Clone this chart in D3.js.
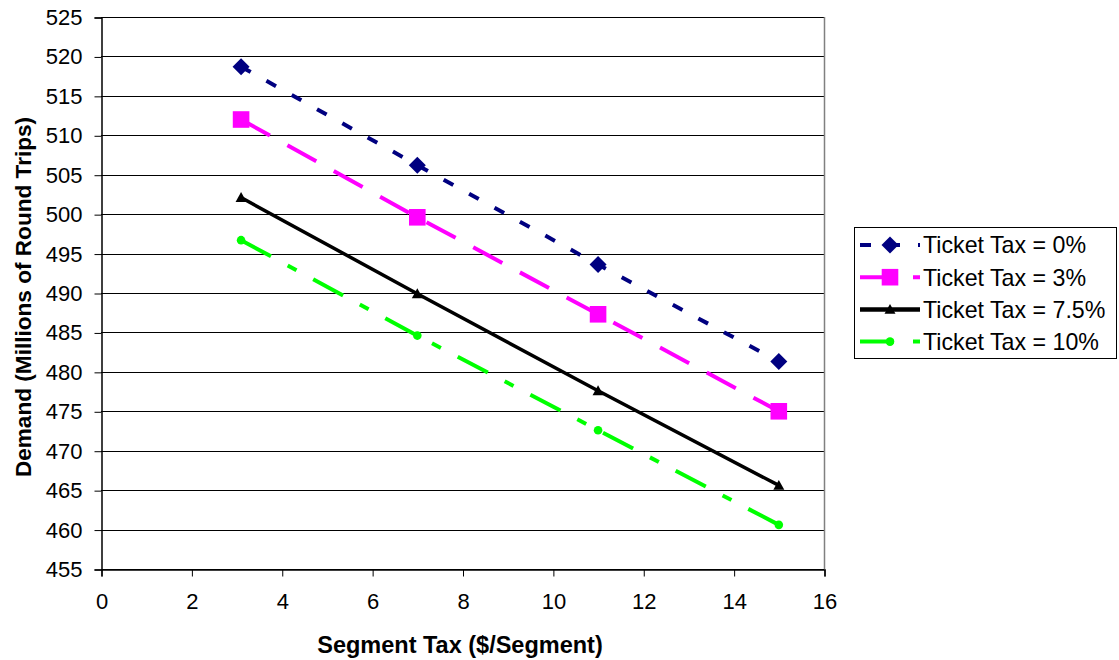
<!DOCTYPE html>
<html><head><meta charset="utf-8">
<script src="https://cdn.jsdelivr.net/npm/d3@7"></script>
<style>
html,body{margin:0;padding:0;background:#fff;}
svg{display:block;font-family:"Liberation Sans",Arial,sans-serif;}
</style></head>
<body>
<svg id="chart" width="1119" height="660"></svg>
<script>
const segmentTax = [3.1, 7, 11, 15];
const tax0  = [518.7, 506.2, 493.6, 481.3];
const tax3  = [512.0, 499.6, 487.3, 475.0];
const tax75 = [502.1, 489.9, 477.6, 465.6];
const tax10 = [496.7, 484.6, 472.6, 460.6];
const seriesNames = ["Ticket Tax = 0%", "Ticket Tax = 3%", "Ticket Tax = 7.5%", "Ticket Tax = 10%"];
const xTicks = [0, 2, 4, 6, 8, 10, 12, 14, 16];
const yTicks = [455, 460, 465, 470, 475, 480, 485, 490, 495, 500, 505, 510, 515, 520, 525];

const styles = [
  {color:"#000080", width:4, dash:"11,18", marker:"diamond", size:8.5},
  {color:"#FF00FF", width:4, dash:"33,20", marker:"square", size:8.3},
  {color:"#000000", width:3.5, dash:null, marker:"triangle", size:5.5},
  {color:"#00FF00", width:4, dash:"34,19,10,19", marker:"circle", size:4.3}
];
const allSeries = [tax0, tax3, tax75, tax10];

function markerPath(type, r) {
  if (type === "diamond") return `M0,${-r}L${r},0L0,${r}L${-r},0Z`;
  if (type === "square") return `M${-r},${-r}H${r}V${r}H${-r}Z`;
  if (type === "triangle") return `M0,${-r}L${r},${r*0.8}L${-r},${r*0.8}Z`;
  return `M${r},0A${r},${r} 0 1,1 ${-r},0A${r},${r} 0 1,1 ${r},0Z`;
}

const svg = d3.select("#chart");
const L = 101, R = 824, T = 17, B = 569;
const x = d3.scaleLinear().domain([0, 16]).range([L, R]);
const y = d3.scaleLinear().domain([455, 525]).range([B, T]);

svg.append("g").selectAll("line").data(yTicks).join("line")
  .attr("x1", L).attr("x2", R)
  .attr("y1", d => Math.round(y(d)) + 0.5).attr("y2", d => Math.round(y(d)) + 0.5)
  .attr("stroke", "#000").attr("stroke-width", 1);
svg.append("line").attr("x1", R + 0.5).attr("x2", R + 0.5).attr("y1", T).attr("y2", B)
  .attr("stroke", "#808080").attr("stroke-width", 1.5);

const yAxis = d3.axisLeft(y).tickValues(yTicks).tickSize(7).tickPadding(12).tickFormat(d3.format("d"));
const gy = svg.append("g").attr("transform", `translate(${L + 0.5},0.5)`).call(yAxis);
gy.select(".domain").attr("stroke", "#000").attr("stroke-width", 1.5);
gy.selectAll(".tick line").attr("stroke", "#000");
gy.selectAll(".tick text").attr("font-size", 22).attr("fill", "#000")
  .attr("font-family", "'Liberation Sans',Arial,sans-serif");

const xAxis = d3.axisBottom(x).tickValues(xTicks).tickSize(7).tickPadding(17).tickFormat(d3.format("d"));
const gx = svg.append("g").attr("transform", `translate(0.5,${B + 0.5})`).call(xAxis);
gx.select(".domain").attr("stroke", "#000").attr("stroke-width", 1.5);
gx.selectAll(".tick line").attr("stroke", "#000");
gx.selectAll(".tick text").attr("font-size", 22).attr("fill", "#000")
  .attr("font-family", "'Liberation Sans',Arial,sans-serif");

svg.append("text").attr("x", 460).attr("y", 653).attr("text-anchor", "middle")
  .attr("font-size", 23.5).attr("font-weight", "bold").text("Segment Tax ($/Segment)");
svg.append("text").attr("transform", "translate(31,297) rotate(-90)").attr("text-anchor", "middle")
  .attr("font-size", 22.6).attr("font-weight", "bold").text("Demand (Millions of Round Trips)");

const line = d3.line().x(d => x(d[0])).y(d => y(d[1]));

allSeries.forEach((vals, i) => {
  const st = styles[i];
  const pts = segmentTax.map((s, j) => [s, vals[j]]);
  const g = svg.append("g");
  g.append("path").datum(pts).attr("d", line).attr("fill", "none")
    .attr("stroke", st.color).attr("stroke-width", st.width)
    .attr("stroke-dasharray", st.dash);
  g.selectAll("path.m").data(pts).join("path").attr("class", "m")
    .attr("transform", d => `translate(${x(d[0])},${y(d[1])})`)
    .attr("d", markerPath(st.marker, st.size))
    .attr("fill", st.color);
});

const lg = svg.append("g");
lg.append("rect").attr("x", 854.5).attr("y", 227.5).attr("width", 262).attr("height", 131)
  .attr("fill", "#fff").attr("stroke", "#000").attr("stroke-width", 1);
seriesNames.forEach((name, i) => {
  const st = styles[i];
  const cy = 245 + i * 32.2;
  const g = lg.append("g");
  g.append("line").attr("x1", 860).attr("x2", 920).attr("y1", cy).attr("y2", cy)
    .attr("stroke", st.color).attr("stroke-width", i === 2 ? 4.5 : st.width).attr("stroke-dasharray", st.dash);
  g.append("path").attr("transform", `translate(890,${cy})`)
    .attr("d", markerPath(st.marker, st.size)).attr("fill", st.color);
  g.append("text").attr("x", 923).attr("y", cy).attr("dy", "0.36em")
    .attr("font-size", 23.2).attr("fill", "#000").text(name);
});
</script>
</body></html>
